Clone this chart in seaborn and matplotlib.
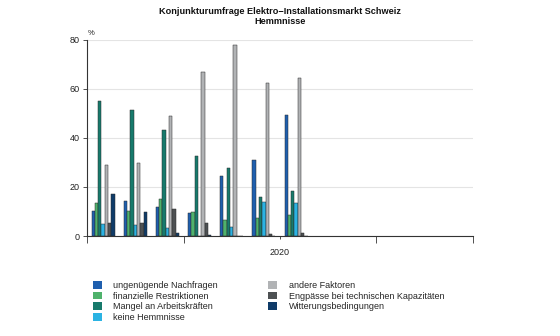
import matplotlib
matplotlib.use("Agg")
import matplotlib.pyplot as plt
import seaborn as sns
import pandas as pd
from matplotlib.patches import Patch

# ---- data ----
months = ["01", "02", "03", "04", "05", "06", "07", "08", "09", "10", "11", "12"]
data_months = ["01", "02", "03", "04", "05", "06", "07"]
series = [
    "ungenügende Nachfragen",
    "finanzielle Restriktionen",
    "Mangel an Arbeitskräften",
    "keine Hemmnisse",
    "andere Faktoren",
    "Engpässe bei technischen Kapazitäten",
    "Witterungsbedingungen",
]
ungenuegende = [10.3, 14.4, 11.8, 9.4, 24.6, 31.2, 49.2]
finanzielle = [13.3, 10.4, 14.9, 10.0, 6.4, 7.5, 8.6]
mangel = [55.2, 51.6, 43.2, 32.8, 27.6, 16.1, 18.3]
keine = [4.7, 4.4, 3.4, 0.2, 3.8, 13.8, 13.3]
andere = [29.1, 29.6, 49.1, 67.0, 78.1, 62.5, 64.4]
engpaesse = [5.2, 5.2, 11.2, 5.2, 0.0, 0.8, 1.4]
witterung = [17.1, 9.6, 1.1, 0.4, 0.0, 0.0, 0.0]
year_label = "2020"
colors = ["#1f5fae", "#4fb26c", "#177a6c", "#2bb3e3", "#b1b3b5", "#4d5153", "#0f3b68"]

values = [ungenuegende, finanzielle, mangel, keine, andere, engpaesse, witterung]
rows = []
for s, vals in zip(series, values):
    for m, v in zip(data_months, vals):
        rows.append({"Monat": m, "Serie": s, "Wert": v})
df = pd.DataFrame(rows)

sns.set_theme(style="white")
plt.rcParams["font.family"] = ["Liberation Sans", "DejaVu Sans"]

fig = plt.figure(figsize=(5.6, 3.36), dpi=100)
ax = fig.add_axes([87 / 560, 1 - 236 / 336, (473 - 87) / 560, (236 - 40) / 336])

sns.barplot(data=df, x="Monat", y="Wert", hue="Serie", order=months,
            hue_order=series, palette=colors, width=0.72, ax=ax, saturation=1,
            edgecolor="#2b2b2b", linewidth=0.35, legend=False, errorbar=None)

ax.set_xlim(-0.5, 11.5)
ax.set_ylim(0, 80)
ax.set_yticks([0, 20, 40, 60, 80])
ax.set_xticks([-0.5, 2.5, 8.5, 11.5])
ax.set_xticks([5.5], minor=True)
ax.set_xticklabels([])
ax.set_xlabel("")
ax.set_ylabel("")
ax.yaxis.grid(True, color="#e4e4e4", linewidth=0.8)
ax.set_axisbelow(True)
for side in ["top", "right"]:
    ax.spines[side].set_visible(False)
for side in ["left", "bottom"]:
    ax.spines[side].set_color("#333333")
    ax.spines[side].set_linewidth(0.8)
ax.tick_params(axis="y", labelsize=6.5, length=3, width=0.6, color="#333333",
               left=True, pad=2, labelcolor="#222222")
ax.tick_params(axis="x", which="major", length=5, width=0.6, color="#333333", bottom=True)
ax.tick_params(axis="x", which="minor", length=2.2, width=0.6, color="#333333", bottom=True)

ax.text(5.5, -6.8, year_label, ha="center", va="center", fontsize=6.5, color="#222222")
ax.text(-0.47, 82.8, "%", ha="left", va="center", fontsize=5.5, color="#222222")

fig.text(0.5, 1 - 11 / 336, "Konjunkturumfrage Elektro\u2212Installationsmarkt Schweiz",
         ha="center", va="center", fontsize=6.6, fontweight="bold", color="#111111")
fig.text(0.5, 1 - 22 / 336, "Hemmnisse", ha="center", va="center",
         fontsize=6.6, fontweight="bold", color="#111111")

handles = [Patch(facecolor=c, edgecolor="none") for c in colors]
fig.legend(handles, series, loc="upper left", bbox_to_anchor=(93 / 560, 1 - 281 / 336),
           ncol=2, frameon=False, fontsize=6.5, handlelength=0.95, handleheight=0.95,
           handletextpad=1.3, labelspacing=0.18, columnspacing=5.6,
           borderaxespad=0, borderpad=0)

fig.savefig("out.png", dpi=100)
